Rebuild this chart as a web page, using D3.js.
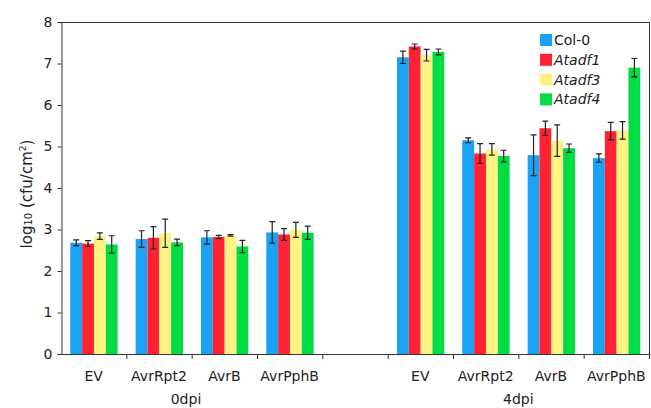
<!DOCTYPE html>
<html>
<head>
<meta charset="utf-8">
<script src="https://cdn.jsdelivr.net/npm/d3@7"></script>
<style>
  body { margin: 0; background: #fff; }
  svg text { font-family: "DejaVu Sans", Verdana, sans-serif; fill: #222; }
</style>
</head>
<body>
<div id="chart"></div>
<script>
// genotypes (legend) and strains
const series = ["Col-0", "Atadf1", "Atadf3", "Atadf4"];
const italicSeries = ["Atadf1", "Atadf3", "Atadf4"];
const strains = ["EV", "AvrRpt2", "AvrB", "AvrPphB"];
const timepoints = ["0dpi", "4dpi"];
const colors = ["#1aa3f5", "#ff2233", "#fff282", "#00dd44"];

// log10 cfu/cm2, one row per strain, one value per genotype
const means0dpi = [
  [2.68, 2.66, 2.84, 2.64],
  [2.77, 2.80, 2.91, 2.69],
  [2.81, 2.82, 2.86, 2.59],
  [2.93, 2.88, 2.99, 2.92],
];
const err0dpi = [
  [0.07, 0.07, 0.08, 0.21],
  [0.20, 0.27, 0.34, 0.08],
  [0.16, 0.04, 0.02, 0.15],
  [0.26, 0.14, 0.18, 0.16],
];
const means4dpi = [
  [7.15, 7.41, 7.20, 7.28],
  [5.15, 4.83, 4.93, 4.77],
  [4.79, 5.44, 5.14, 4.96],
  [4.72, 5.37, 5.39, 6.90],
];
const err4dpi = [
  [0.15, 0.06, 0.14, 0.07],
  [0.06, 0.24, 0.14, 0.14],
  [0.49, 0.17, 0.38, 0.10],
  [0.10, 0.21, 0.21, 0.22],
];
const yTicks = [0, 1, 2, 3, 4, 5, 6, 7, 8];

const width = 651, height = 408;
const plotLeft = 61, plotRight = 649, plotTop = 22, plotBottom = 354;

// slots: 4 strains, a blank gap, 4 strains
const slots = [
  ...strains.map((s) => "0dpi|" + s),
  "gap",
  ...strains.map((s) => "4dpi|" + s),
];

const rows = [];
strains.forEach((s, i) => {
  series.forEach((g, j) => {
    rows.push({ slot: "0dpi|" + s, series: g, i: j, value: means0dpi[i][j], err: err0dpi[i][j] });
    rows.push({ slot: "4dpi|" + s, series: g, i: j, value: means4dpi[i][j], err: err4dpi[i][j] });
  });
});

const svg = d3.select("#chart").append("svg")
  .attr("width", width).attr("height", height);

const x = d3.scaleBand().domain(slots).range([plotLeft, plotRight]).padding(0);
const step = x.bandwidth();
const xi = d3.scaleBand().domain(series).range([9.3, step - 8.7]).padding(0);
const y = d3.scaleLinear().domain([0, 8]).range([plotBottom, plotTop]);

// frame top + right
svg.append("path")
  .attr("d", `M${plotLeft},${plotTop + 0.5}H${plotRight + 0.5}V${plotBottom}`)
  .attr("fill", "none").attr("stroke", "#333").attr("stroke-width", 1);

// bars
svg.append("g").selectAll("rect")
  .data(rows)
  .join("rect")
  .attr("x", (d) => x(d.slot) + xi(d.series))
  .attr("width", xi.bandwidth())
  .attr("y", (d) => y(d.value))
  .attr("height", (d) => plotBottom - y(d.value))
  .attr("fill", (d) => colors[d.i]);

// error bars
const eb = svg.append("g").attr("stroke", "#222").attr("stroke-width", 1.2).attr("fill", "none");
eb.selectAll("path")
  .data(rows)
  .join("path")
  .attr("d", (d) => {
    const cx = x(d.slot) + xi(d.series) + xi.bandwidth() / 2;
    const y1 = y(d.value + d.err), y2 = y(d.value - d.err);
    return `M${cx - 3},${y1}H${cx + 3}M${cx},${y1}V${y2}M${cx - 3},${y2}H${cx + 3}`;
  });

// y axis
const yAxis = svg.append("g")
  .attr("transform", `translate(${plotLeft + 0.5},0)`)
  .call(d3.axisLeft(y).tickValues(yTicks).tickSize(4).tickPadding(5).tickFormat(d3.format("d")));
yAxis.selectAll("text").style("font-size", "14px").attr("fill", "#222");
yAxis.selectAll("line, path").attr("stroke", "#333");

// x axis: baseline with ticks at slot boundaries
const xg = svg.append("g");
xg.append("line")
  .attr("x1", plotLeft).attr("x2", plotRight + 0.5)
  .attr("y1", plotBottom + 0.5).attr("y2", plotBottom + 0.5)
  .attr("stroke", "#333");
xg.selectAll(".bt")
  .data(slots.slice(1).concat("end"))
  .join("line")
  .attr("x1", (d) => (d === "end" ? plotRight : x(d)) + 0.5)
  .attr("x2", (d) => (d === "end" ? plotRight : x(d)) + 0.5)
  .attr("y1", plotBottom).attr("y2", plotBottom + 5)
  .attr("stroke", "#333");

xg.selectAll(".lab")
  .data(slots.filter((s) => s !== "gap"))
  .join("text")
  .attr("x", (d) => x(d) + step / 2)
  .attr("y", 381)
  .attr("text-anchor", "middle")
  .style("font-size", "14px")
  .text((d) => d.split("|")[1]);

xg.selectAll(".tp")
  .data(timepoints)
  .join("text")
  .attr("x", (d) => (d === "0dpi" ? 186 : x("4dpi|AvrB")))
  .attr("y", 404)
  .attr("text-anchor", "middle")
  .style("font-size", "14px")
  .text((d) => d);

// y label
const yl = svg.append("text")
  .attr("transform", `translate(32,${194}) rotate(-90)`)
  .attr("text-anchor", "middle")
  .style("font-size", "15px");
yl.append("tspan").text("log");
yl.append("tspan").text("10").style("font-size", "10px").attr("dy", 0);
yl.append("tspan").text(" (cfu/cm");
yl.append("tspan").text("2").style("font-size", "9px").attr("dy", -6);
yl.append("tspan").text(")").attr("dy", 6);

// legend
const lg = svg.append("g").attr("transform", "translate(540,34)");
const li = lg.selectAll("g").data(series).join("g")
  .attr("transform", (d, i) => `translate(0,${i * 19.8})`);
li.append("rect").attr("width", 12).attr("height", 12)
  .attr("fill", (d, i) => colors[i]);
li.append("text").attr("x", 14).attr("y", 11)
  .style("font-size", "14px")
  .style("font-style", (d) => (italicSeries.includes(d) ? "italic" : "normal"))
  .text((d) => d);
</script>
</body>
</html>
